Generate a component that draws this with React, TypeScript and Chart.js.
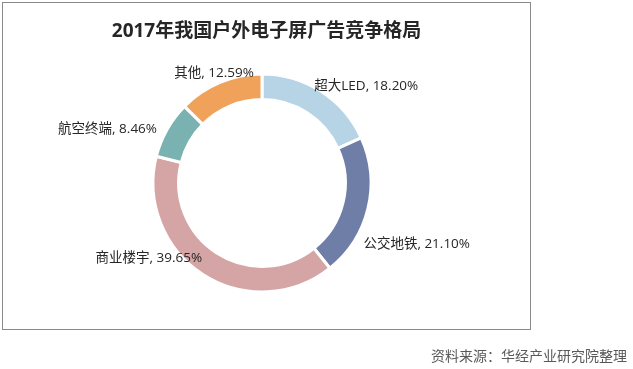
import React, { useEffect, useRef } from "react";
import { Chart, registerables } from "chart.js";

Chart.register(...registerables);

const titleText = "2017年我国户外电子屏广告竞争格局";
const sourceText = "资料来源：华经产业研究院整理";
const categories = ["超大LED", "公交地铁", "商业楼宇", "航空终端", "其他"];
const shares = [18.2, 21.1, 39.65, 8.46, 12.59];
const sliceColors = ["#b6d4e6", "#6f7ea6", "#d5a5a5", "#79b2b1", "#f1a25a"];

const labelPlugin = {
  id: "sliceLabels",
  afterDatasetsDraw(chart: any, _args: any, opts: any) {
    const ctx = chart.ctx;
    const meta = chart.getDatasetMeta(0);
    const values = chart.data.datasets[0].data;
    ctx.save();
    ctx.font = opts.font;
    ctx.fillStyle = opts.color;
    ctx.textAlign = "center";
    ctx.textBaseline = "middle";
    meta.data.forEach((arc: any, i: number) => {
      const p = arc.getProps(["x", "y", "startAngle", "endAngle", "outerRadius"], true);
      const mid = (p.startAngle + p.endAngle) / 2;
      const dx = Math.cos(mid);
      const dy = Math.sin(mid);
      const r = p.outerRadius + opts.gap;
      const text = `${chart.data.labels[i]}, ${Number(values[i]).toFixed(2)}%`;
      const w = ctx.measureText(text).width;
      const h = opts.lineHeight;
      const n = (opts.nudges && opts.nudges[i]) || [0, 0];
      const cx = p.x + dx * r + (dx * w) / 2 + n[0];
      const cy = p.y + dy * r + (dy * h) / 2 + n[1];
      ctx.fillText(text, cx, cy);
    });
    ctx.restore();
  },
};

export default function App() {
  const canvasRef = useRef<HTMLCanvasElement | null>(null);

  useEffect(() => {
    if (!canvasRef.current) return;
    const chart = new Chart(canvasRef.current, {
      type: "doughnut",
      data: {
        labels: categories,
        datasets: [
          {
            data: shares,
            backgroundColor: sliceColors,
            borderColor: "#ffffff",
            borderWidth: 3,
          },
        ],
      },
      options: {
        responsive: false,
        animation: false,
        devicePixelRatio: 1,
        events: [],
        cutout: "76.5%",
        layout: {
          padding: { left: 151.5, top: 72.5, right: 260.5, bottom: 75.5 },
        },
        plugins: {
          legend: { display: false },
          tooltip: { enabled: false },
          title: { display: false },
          sliceLabels: {
            font: '13.5px "Open Sans", "Noto Sans CJK SC", sans-serif',
            color: "#262626",
            gap: 4,
            lineHeight: 14,
            nudges: [
              [15, 4],
              [-7, 33],
              [-23, -26],
              [-13, 5],
              [11, 1],
            ],
          },
        } as any,
      },
      plugins: [labelPlugin as any],
    });
    return () => chart.destroy();
  }, []);

  return (
    <div
      style={{
        position: "absolute",
        left: 0,
        top: 0,
        width: 633,
        height: 369,
        background: "#ffffff",
        overflow: "hidden",
      }}
    >
      <div
        style={{
          position: "absolute",
          left: 2,
          top: 2,
          width: 527,
          height: 326,
          border: "1px solid #8a8a8a",
        }}
      />
      <canvas
        ref={canvasRef}
        width={633}
        height={369}
        style={{ position: "absolute", left: 0, top: 0, width: 633, height: 369, display: "block" }}
      />
      <div
        style={{
          position: "absolute",
          left: 2,
          top: 20,
          width: 529,
          textAlign: "center",
          fontFamily: '"Open Sans", "Noto Sans CJK SC", sans-serif',
          fontWeight: 700,
          fontSize: 19,
          lineHeight: "20px",
          color: "#262626",
          whiteSpace: "nowrap",
        }}
      >
        {titleText}
      </div>
      <div
        style={{
          position: "absolute",
          right: 6,
          top: 348,
          fontFamily: '"Noto Sans CJK SC", sans-serif',
          fontSize: 14,
          lineHeight: "14px",
          color: "#595959",
          whiteSpace: "nowrap",
        }}
      >
        {sourceText}
      </div>
    </div>
  );
}
